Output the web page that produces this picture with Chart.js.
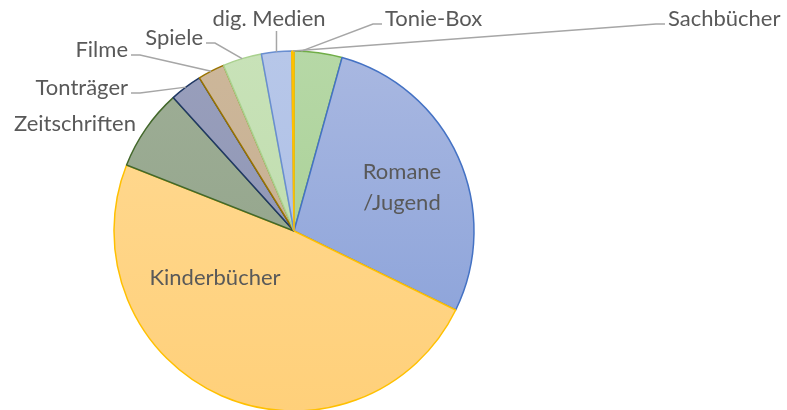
<!DOCTYPE html>
<html>
<head>
<meta charset="utf-8">
<script src="https://cdn.jsdelivr.net/npm/chart.js@4"></script>
<style>
  html, body { margin: 0; padding: 0; background: #fff; }
  #wrap { width: 787px; height: 410px; position: relative; }
</style>
</head>
<body>
<div id="wrap"><canvas id="chart"></canvas></div>
<script>
// data, clockwise from 12 o'clock
const categories = ["Tonie-Box", "Romane\n/Jugend", "Kinderbücher", "Zeitschriften", "Tonträger", "Filme", "Spiele", "dig. Medien", "Sachbücher"];
const shares = [4.3, 27.9, 48.7, 7.3, 2.9, 2.4, 3.5, 2.7, 0.2];

// styles
const fillTop    = ["#b6d8a6", "#a9b8e1", "#ffda94", "#9eae96", "#999fbc", "#cdb79a", "#c8e2b8", "#b7c7e9", "#ffc000"];
const fillBottom = ["#a3cc8f", "#859ed8", "#ffd07a", "#8fa187", "#8a92b2", "#c3ac8d", "#bbdaa8", "#a9bce4", "#ffc000"];
const borders    = ["#70ad47", "#4472c4", "#ffc000", "#43682b", "#203864", "#997300", "#a9d18e", "#698ed0", "#ffc000"];

// label layout: inside labels use the centre point, outside ones get a leader line
const labelLayout = [
  { x: 385, y: 19, align: "left", frac: 0.15 },
  { x: 402, y: 187, align: "inside" },
  { x: 215, y: 278, align: "inside" },
  { x: 14, y: 124, align: "left", noLine: true },
  { x: 128, y: 88, align: "right", frac: 0.5 },
  { x: 128, y: 50, align: "right", frac: 0.5 },
  { x: 203, y: 38, align: "right", frac: 0.5 },
  { x: 269, y: 19, align: "center", frac: 0.5 },
  { x: 668, y: 19, align: "left", frac: 0.5 }
];

const FONT = "22px Lato, 'Open Sans', sans-serif";
const TEXT_COLOR = "#595959";
const LINE_COLOR = "#a6a6a6";

const labelPlugin = {
  id: "sliceLabels",
  afterDatasetsDraw(chart) {
    const ctx = chart.ctx;
    const arcs = chart.getDatasetMeta(0).data;
    ctx.save();
    ctx.font = FONT;
    ctx.fillStyle = TEXT_COLOR;
    ctx.textBaseline = "middle";
    arcs.forEach((arc, i) => {
      const lay = labelLayout[i];
      const lines = categories[i].split("\n");
      if (lay.align === "inside") {
        ctx.textAlign = "center";
        lines.forEach((t, k) => ctx.fillText(t, lay.x, lay.y + (k - (lines.length - 1) / 2) * 31));
        return;
      }
      const text = lines.join("");
      ctx.textAlign = lay.align;
      ctx.fillText(text, lay.x, lay.y);
      if (lay.noLine) return;
      const a = arc.startAngle + (arc.endAngle - arc.startAngle) * lay.frac;
      const sx = arc.x + Math.cos(a) * arc.outerRadius;
      const sy = arc.y + Math.sin(a) * arc.outerRadius;
      ctx.strokeStyle = LINE_COLOR;
      ctx.lineWidth = 1.5;
      ctx.beginPath();
      ctx.moveTo(sx, sy);
      if (lay.align === "center") {
        ctx.lineTo(sx, lay.y + 12);
      } else if (lay.align === "left") {
        const ex = lay.x - 3, ey = lay.y + 5;
        ctx.lineTo(ex - 9, ey);
        ctx.lineTo(ex, ey);
      } else {
        const ex = lay.x + 3, ey = lay.y + 5;
        ctx.lineTo(ex + 9, ey);
        ctx.lineTo(ex, ey);
      }
      ctx.stroke();
    });
    ctx.restore();
  }
};

function sliceFill(context) {
  const i = context.dataIndex;
  const area = context.chart.chartArea;
  if (!area) return fillTop[i];
  const cy = (area.top + area.bottom) / 2;
  const g = context.chart.ctx.createLinearGradient(0, cy - 180, 0, cy + 180);
  g.addColorStop(0, fillTop[i]);
  g.addColorStop(1, fillBottom[i]);
  return g;
}

new Chart(document.getElementById("chart"), {
  type: "pie",
  data: {
    labels: categories,
    datasets: [{
      data: shares,
      backgroundColor: sliceFill,
      borderColor: borders,
      borderWidth: 1.5,
      radius: 180,
      clip: false
    }]
  },
  options: {
    responsive: true,
    maintainAspectRatio: false,
    animation: false,
    layout: { padding: { left: 0, right: 199, top: 52, bottom: 0 } },
    plugins: {
      legend: { display: false },
      tooltip: { enabled: false }
    }
  },
  plugins: [labelPlugin]
});
</script>
</body>
</html>
